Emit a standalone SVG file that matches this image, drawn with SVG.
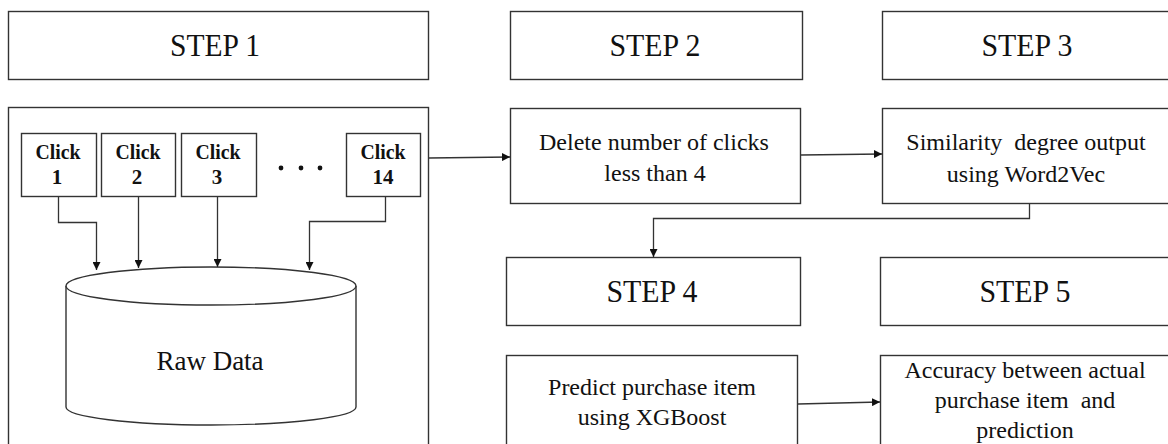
<svg xmlns="http://www.w3.org/2000/svg" width="1168" height="444" viewBox="0 0 1168 444">
<defs>
<marker id="ah" viewBox="0 0 10 10" refX="10" refY="5" markerWidth="8" markerHeight="8" markerUnits="userSpaceOnUse" orient="auto"><path d="M0,0 L10,5 L0,10 z" fill="#111"/></marker>
<style>
.box{fill:#fff;stroke:#333;stroke-width:1.4}
.step{font-family:"Liberation Serif",serif;font-size:32px;fill:#111;text-anchor:middle}
.txt{font-family:"Liberation Serif",serif;font-size:24px;fill:#111;text-anchor:middle;white-space:pre}
.clk{font-family:"Liberation Serif",serif;font-size:21px;font-weight:bold;fill:#111;text-anchor:middle}
.con{fill:none;stroke:#333;stroke-width:1.3;marker-end:url(#ah)}
</style>
</defs>
<rect width="1168" height="444" fill="#fff"/>
<g id="step1"><rect class="box" x="8.5" y="11.5" width="420" height="68"/><text class="step" x="215" y="56" textLength="90" lengthAdjust="spacingAndGlyphs">STEP 1</text></g>
<g id="step2"><rect class="box" x="510.5" y="11.5" width="292" height="68"/><text class="step" x="655" y="56" textLength="91" lengthAdjust="spacingAndGlyphs">STEP 2</text></g>
<g id="step3"><rect class="box" x="882.5" y="11.5" width="300" height="68"/><text class="step" x="1027" y="56" textLength="91" lengthAdjust="spacingAndGlyphs">STEP 3</text></g>
<g id="step4"><rect class="box" x="506.5" y="257.5" width="294" height="68"/><text class="step" x="652" y="302" textLength="91" lengthAdjust="spacingAndGlyphs">STEP 4</text></g>
<g id="step5"><rect class="box" x="880.5" y="257.5" width="300" height="68"/><text class="step" x="1025" y="302" textLength="91" lengthAdjust="spacingAndGlyphs">STEP 5</text></g>
<g id="step1-panel"><rect class="box" x="8.5" y="107.5" width="420" height="350"/></g>
<g id="click1"><rect class="box" x="21.5" y="133.5" width="75" height="63"/><text class="clk" x="58" y="159" textLength="45" lengthAdjust="spacingAndGlyphs">Click</text><text class="clk" x="57" y="184">1</text></g>
<g id="click2"><rect class="box" x="101.5" y="133.5" width="74" height="63"/><text class="clk" x="138" y="159" textLength="45" lengthAdjust="spacingAndGlyphs">Click</text><text class="clk" x="137" y="184">2</text></g>
<g id="click3"><rect class="box" x="181.5" y="133.5" width="75" height="63"/><text class="clk" x="218" y="159" textLength="45" lengthAdjust="spacingAndGlyphs">Click</text><text class="clk" x="217" y="184">3</text></g>
<g id="dots" fill="#111"><circle cx="281" cy="168" r="2.4"/><circle cx="301" cy="168" r="2.4"/><circle cx="320" cy="168" r="2.4"/></g>
<g id="click14"><rect class="box" x="346.5" y="133.5" width="74" height="63"/><text class="clk" x="383" y="159" textLength="45" lengthAdjust="spacingAndGlyphs">Click</text><text class="clk" x="383" y="184">14</text></g>
<g id="rawdata">
<path class="box" d="M66,286 L66,407 A145,18 0 0 0 356,407 L356,286"/>
<ellipse class="box" cx="211" cy="286" rx="145" ry="19"/>
<text class="txt" x="210" y="370" style="font-size:27px">Raw Data</text>
</g>
<g id="delete"><rect class="box" x="510.5" y="108.5" width="290" height="95"/><text class="txt" x="654" y="150">Delete number of clicks</text><text class="txt" x="655" y="181">less than 4</text></g>
<g id="similarity"><rect class="box" x="882.5" y="108.5" width="300" height="95"/><text class="txt" x="1026" y="150">Similarity  degree output</text><text class="txt" x="1026" y="182">using Word2Vec</text></g>
<g id="predict"><rect class="box" x="506.5" y="355.5" width="291" height="100"/><text class="txt" x="652" y="395">Predict purchase item</text><text class="txt" x="652" y="425">using XGBoost</text></g>
<g id="accuracy"><rect class="box" x="880.5" y="355.5" width="300" height="100"/><text class="txt" x="1025" y="378">Accuracy between actual</text><text class="txt" x="1025" y="408">purchase item  and</text><text class="txt" x="1025" y="438">prediction</text></g>
<g id="connectors">
<path class="con" d="M58.5,197 V222.5 H96.5 V270"/>
<path class="con" d="M138.5,197 V268"/>
<path class="con" d="M217.5,197 V267"/>
<path class="con" d="M385.5,197 V221.5 H309.5 V270"/>
<path class="con" d="M429,158 L510,157"/>
<path class="con" d="M801,155 L882,154"/>
<path class="con" d="M1029.5,204 V218.5 H653.5 V257"/>
<path class="con" d="M798,404 L880,402"/>
</g>
</svg>
